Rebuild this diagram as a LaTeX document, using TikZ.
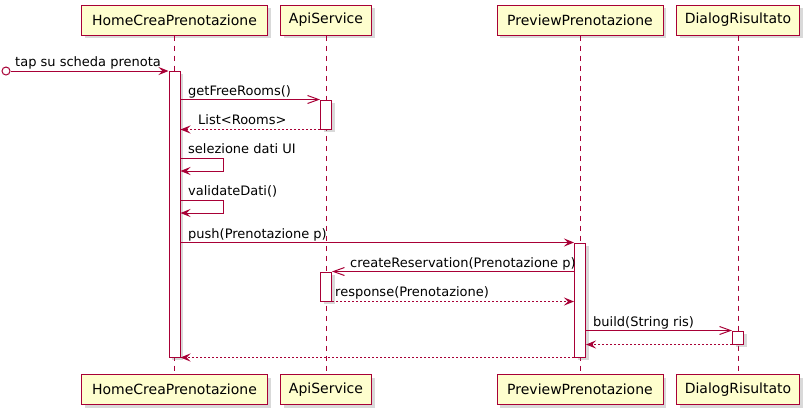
\documentclass[tikz,border=0pt]{standalone}
\usepackage{fontspec}
\setmainfont{DejaVu Sans}
\usetikzlibrary{arrows.meta,shadows}
\definecolor{umlred}{HTML}{A80036}
\definecolor{umlfill}{HTML}{FEFECE}
\tikzset{
  party/.style={draw=umlred, fill=umlfill, line width=1pt, minimum height=30pt, inner sep=0pt,
    font=\fontsize{14}{16}\selectfont,
    drop shadow={shadow xshift=3pt, shadow yshift=-3pt, opacity=0.3}},
  lifeline/.style={draw=umlred, line width=0.8pt, dash pattern=on 5pt off 5pt},
  act/.style={draw=umlred, fill=white, line width=1pt, minimum width=11pt, inner sep=0pt,
    drop shadow={shadow xshift=3pt, shadow yshift=-3pt, opacity=0.3}},
  msg/.style={draw=umlred, line width=1pt, -{Stealth[length=10pt, width=8pt, inset=4pt]}},
  async/.style={draw=umlred, line width=1pt, -{Straight Barb[length=11pt, width=8pt, line width=1pt]}},
  reply/.style={msg, dash pattern=on 2pt off 2pt},
  lbl/.style={anchor=base west, inner sep=0pt, font=\fontsize{13}{15}\selectfont}
}
\begin{document}
\begin{tikzpicture}[x=1pt,y=-1pt]
  \useasboundingbox (0,0) rectangle (812,418);

  %%% participants
  \node[party, minimum width=186pt] (home) at (174.5,20) {HomeCreaPrenotazione};
  \node[party, minimum width=91pt] (api) at (326,20) {ApiService};
  \node[party, minimum width=166pt] (preview) at (580,20) {PreviewPrenotazione};
  \node[party, minimum width=123pt] (dialog) at (738,20) {DialogRisultato};

  \node[party, minimum width=186pt] (homeB) at (174.5,389.5) {HomeCreaPrenotazione};
  \node[party, minimum width=91pt] (apiB) at (326,389.5) {ApiService};
  \node[party, minimum width=166pt] (previewB) at (580,389.5) {PreviewPrenotazione};
  \node[party, minimum width=123pt] (dialogB) at (738,389.5) {DialogRisultato};

  \draw[lifeline] (home) -- (homeB);
  \draw[lifeline] (api) -- (apiB);
  \draw[lifeline] (preview) -- (previewB);
  \draw[lifeline] (dialog) -- (dialogB);

  %%% activations
  \node[act, minimum height=286pt] (actHome) at (174.5,214) {};
  \node[act, minimum height=29pt] (actApiA) at (326,114.5) {};
  \node[act, minimum height=114pt] (actPreview) at (580,300) {};
  \node[act, minimum height=29pt] (actApiB) at (326,286.5) {};
  \node[act, minimum height=13pt] (actDialog) at (738,337.5) {};

  %%% messages
  \node[circle, draw=umlred, fill=white, line width=1pt, minimum size=8pt, inner sep=0pt] (tap) at (6,71) {};
  \draw[msg] (tap) -- (actHome.west |- tap);
  \node[lbl] (lTap) at (15,66) {tap su scheda prenota};

  \draw[async] (actHome.east |- actApiA.north) -- (actApiA.north west);
  \node[lbl] (lGet) at (188,95) {getFreeRooms()};

  \draw[reply] (actApiA.south west) -- (actHome.east |- actApiA.south);
  \node[lbl] (lList) at (198,124) {List<Rooms>};

  \draw[msg] (actHome.east |- 0,158) -- ++(43,0) -- ++(0,13) -- (actHome.east |- 0,171);
  \node[lbl] (lSel) at (188,153) {selezione dati UI};

  \draw[msg] (actHome.east |- 0,200) -- ++(43,0) -- ++(0,13) -- (actHome.east |- 0,213);
  \node[lbl] (lVal) at (188,195) {validateDati()};

  \draw[msg] (actHome.east |- actPreview.north) -- (actPreview.north west);
  \node[lbl] (lPush) at (188,238) {push(Prenotazione p)};

  \draw[async] (actPreview.west |- actApiB.north) -- (actApiB.north east);
  \node[lbl] (lCreate) at (350,267) {createReservation(Prenotazione p)};

  \draw[reply] (actApiB.south east) -- (actPreview.west |- actApiB.south);
  \node[lbl] (lResp) at (335,296) {response(Prenotazione)};

  \draw[async] (actPreview.east |- actDialog.north) -- (actDialog.north west);
  \node[lbl] (lBuild) at (593,326) {build(String ris)};

  \draw[reply] (actDialog.south west) -- (actPreview.east |- actDialog.south);

  \draw[reply] (actPreview.south west) -- (actHome.south east);
\end{tikzpicture}
\end{document}
